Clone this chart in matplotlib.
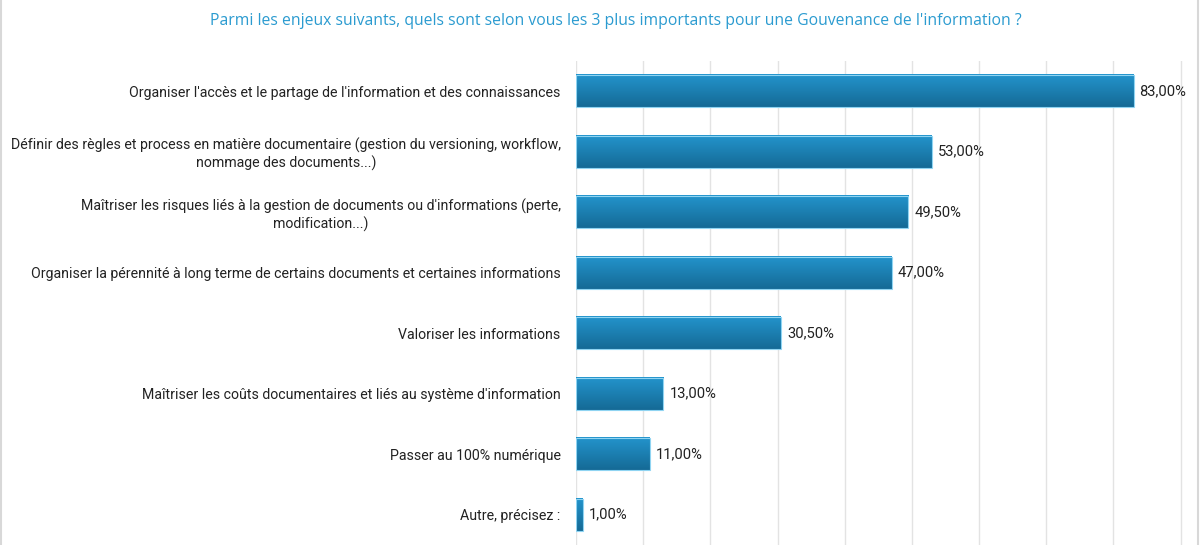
import numpy as np
import matplotlib.pyplot as plt
from matplotlib.colors import LinearSegmentedColormap

# data
categories = [
    "Organiser l'accès et le partage de l'information et des connaissances",
    "Définir des règles et process en matière documentaire (gestion du versioning, workflow,\nnommage des documents...)",
    "Maîtriser les risques liés à la gestion de documents ou d'informations (perte,\nmodification...)",
    "Organiser la pérennité à long terme de certains documents et certaines informations",
    "Valoriser les informations",
    "Maîtriser les coûts documentaires et liés au système d'information",
    "Passer au 100% numérique",
    "Autre, précisez :",
]
values = [83.0, 53.0, 49.5, 47.0, 30.5, 13.0, 11.0, 1.0]
value_labels = ["83,00%", "53,00%", "49,50%", "47,00%", "30,50%", "13,00%", "11,00%", "1,00%"]
title = "Parmi les enjeux suivants, quels sont selon vous les 3 plus importants pour une Gouvenance de l'information ?"

plt.rcParams['font.family'] = ['Roboto', 'DejaVu Sans']

fig = plt.figure(figsize=(12, 5.45), dpi=100)
ax = fig.add_axes([0.48, 0.0, 0.52, 0.888])

grad = LinearSegmentedColormap.from_list('bar', ['#156a96', '#2394cc'])
gimg = np.linspace(0, 1, 50).reshape(-1, 1)

n = len(values)
ypos = np.arange(n)
h = 0.53
for y, v in zip(ypos, values):
    ax.imshow(gimg, cmap=grad, aspect='auto', origin='lower',
              extent=(0, v, y + h / 2, y - h / 2), zorder=2)
ax.barh(ypos, values, height=h, facecolor='none', edgecolor='#8fd4f2',
        linewidth=0.8, zorder=3)

for y, v, lab in zip(ypos, values, value_labels):
    ax.text(v + 0.9, y, lab, va='center', ha='left', fontsize=10.6,
            color='#222222', zorder=4)

ax.set_xlim(0, 92.9)
ax.set_ylim(n - 0.5, -0.5)
ax.set_xticks(np.arange(0, 91, 10))
ax.xaxis.grid(True, color='#e3e3e3', linewidth=1)
ax.set_axisbelow(True)
ax.tick_params(axis='x', length=0, labelbottom=False)
ax.tick_params(axis='y', length=0, pad=11)
ax.set_yticks(ypos)
ax.set_yticklabels(categories, fontsize=10.2, color='#222222', ha='right',
                   multialignment='center')
for s in ax.spines.values():
    s.set_visible(False)

fig.text(0.513, 0.962, title, ha='center', va='center', fontsize=11.3,
         color='#2b9bd0', family=['Open Sans', 'DejaVu Sans'])

# thin frame lines at the figure edges
fig.add_artist(plt.Line2D([0.001, 0.001], [0, 1], color='#d8d8d8', linewidth=1.5))
fig.add_artist(plt.Line2D([0.998, 0.998], [0, 1], color='#d8d8d8', linewidth=1.5))

plt.savefig('out.png', dpi=100)
